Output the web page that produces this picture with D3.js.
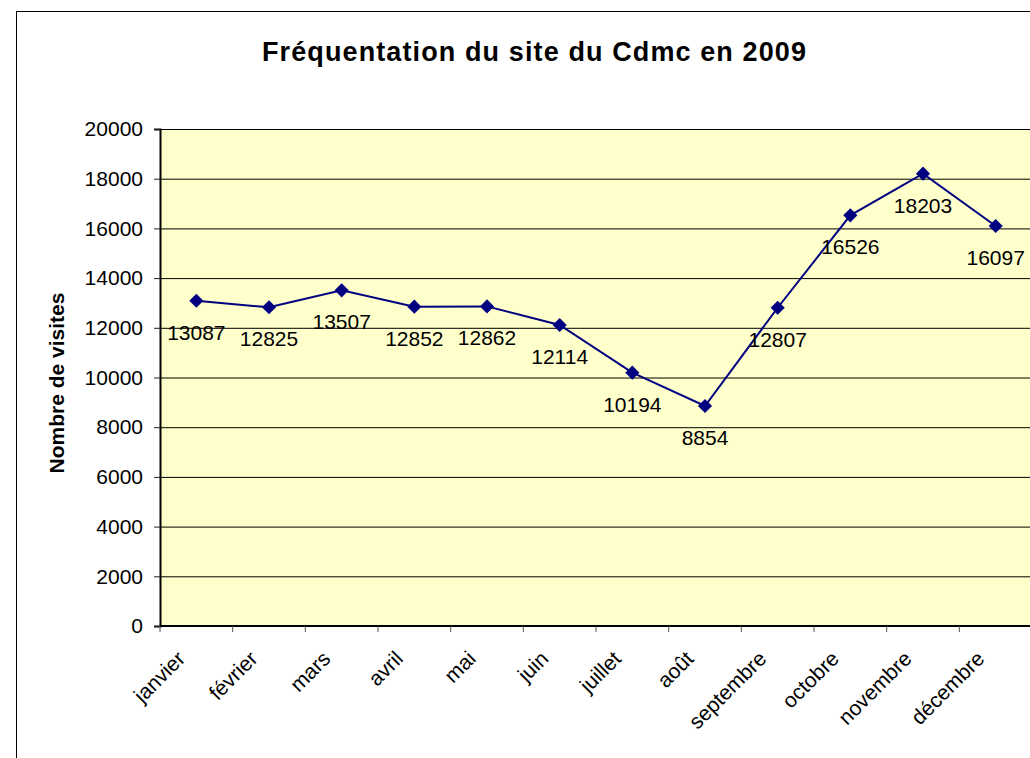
<!DOCTYPE html>
<html>
<head>
<meta charset="utf-8">
<script src="https://cdn.jsdelivr.net/npm/d3@7"></script>
<style>
  body { margin: 0; background: #fff; }
  svg { display: block; font-family: "Liberation Sans", Arial, sans-serif; }
</style>
</head>
<body>
<svg id="chart" width="1030" height="758"></svg>
<script>
  // data
  const months = ['janvier', 'février', 'mars', 'avril', 'mai', 'juin',
    'juillet', 'août', 'septembre', 'octobre', 'novembre', 'décembre'];
  const visits = [13087, 12825, 13507, 12852, 12862, 12114,
    10194, 8854, 12807, 16526, 18203, 16097];
  const yTicks = [0, 2000, 4000, 6000, 8000, 10000, 12000, 14000, 16000, 18000, 20000];

  const svg = d3.select('#chart');
  const margin = {top: 129, left: 160};
  const innerwidth = 872;
  const innerheight = 497;

  // outer chart frame (runs past the window edge)
  svg.append('rect')
    .attr('x', 16.5).attr('y', 11.5)
    .attr('width', 1040).attr('height', 780)
    .attr('fill', '#fff').attr('stroke', '#000').attr('stroke-width', 1);

  svg.append('text')
    .attr('x', 534).attr('y', 61)
    .attr('text-anchor', 'middle')
    .attr('font-size', 27).attr('font-weight', 'bold')
    .attr('textLength', 544).attr('lengthAdjust', 'spacing')
    .text('Fréquentation du site du Cdmc en 2009');

  const g = svg.append('g')
    .attr('transform', `translate(${margin.left},${margin.top})`);

  const xScale = d3.scaleBand().domain(months).range([0, innerwidth]).padding(0);
  const yScale = d3.scaleLinear().domain([0, 20000]).range([innerheight, 0]);
  const cx = d => xScale(d) + xScale.bandwidth() / 2;

  g.append('rect')
    .attr('width', innerwidth).attr('height', innerheight)
    .attr('fill', '#ffffcc');

  // gridlines
  const grid = g.append('g')
    .call(d3.axisLeft(yScale).tickValues(yTicks.slice(1)).tickSize(-innerwidth).tickFormat(''));
  grid.select('.domain').remove();
  grid.selectAll('line').attr('stroke', '#000').attr('stroke-width', 1);

  // y axis
  const yAxisG = g.append('g')
    .call(d3.axisLeft(yScale).tickValues(yTicks).tickSize(6).tickPadding(11).tickFormat(d3.format('d')));
  yAxisG.select('.domain').attr('stroke', '#000').attr('stroke-width', 2);
  yAxisG.selectAll('.tick line').attr('stroke', '#222');
  yAxisG.selectAll('text')
    .attr('font-size', 21).attr('fill', '#000')
    .attr('font-family', '"Liberation Sans", Arial, sans-serif');

  svg.append('text')
    .attr('transform', 'translate(64,383) rotate(-90)')
    .attr('text-anchor', 'middle')
    .attr('font-size', 21).attr('font-weight', 'bold')
    .text('Nombre de visites');

  // x axis: ticks between categories
  const xAxisG = g.append('g').attr('transform', `translate(0,${innerheight})`);
  xAxisG.append('line')
    .attr('x1', 0).attr('x2', innerwidth)
    .attr('stroke', '#000').attr('stroke-width', 2);
  xAxisG.selectAll('.tk')
    .data(months.map(m => xScale(m)).concat([innerwidth]))
    .enter().append('line')
      .attr('class', 'tk')
      .attr('x1', d => d).attr('x2', d => d)
      .attr('y1', 0).attr('y2', 6)
      .attr('stroke', '#555').attr('stroke-width', 1);
  xAxisG.selectAll('.lbl')
    .data(months)
    .enter().append('text')
      .attr('class', 'lbl')
      .attr('transform', d => `translate(${cx(d) - 10},${34}) rotate(-45)`)
      .attr('text-anchor', 'end')
      .attr('font-size', 21)
      .text(d => d);

  // line + markers
  const pts = months.map((m, i) => ({month: m, value: visits[i]}));
  const lineGen = d3.line()
    .x(d => cx(d.month))
    .y(d => yScale(d.value));

  g.append('path')
    .attr('d', lineGen(pts))
    .attr('fill', 'none')
    .attr('stroke', '#000080')
    .attr('stroke-width', 2);

  g.selectAll('.marker')
    .data(pts)
    .enter().append('path')
      .attr('class', 'marker')
      .attr('d', d3.symbol().type(d3.symbolSquare).size(100))
      .attr('transform', d => `translate(${cx(d.month)},${yScale(d.value)}) rotate(45)`)
      .attr('fill', '#000080');

  g.selectAll('.val')
    .data(pts)
    .enter().append('text')
      .attr('class', 'val')
      .attr('x', d => cx(d.month))
      .attr('y', d => yScale(d.value) + 39)
      .attr('text-anchor', 'middle')
      .attr('font-size', 21)
      .text(d => d.value);
</script>
</body>
</html>
